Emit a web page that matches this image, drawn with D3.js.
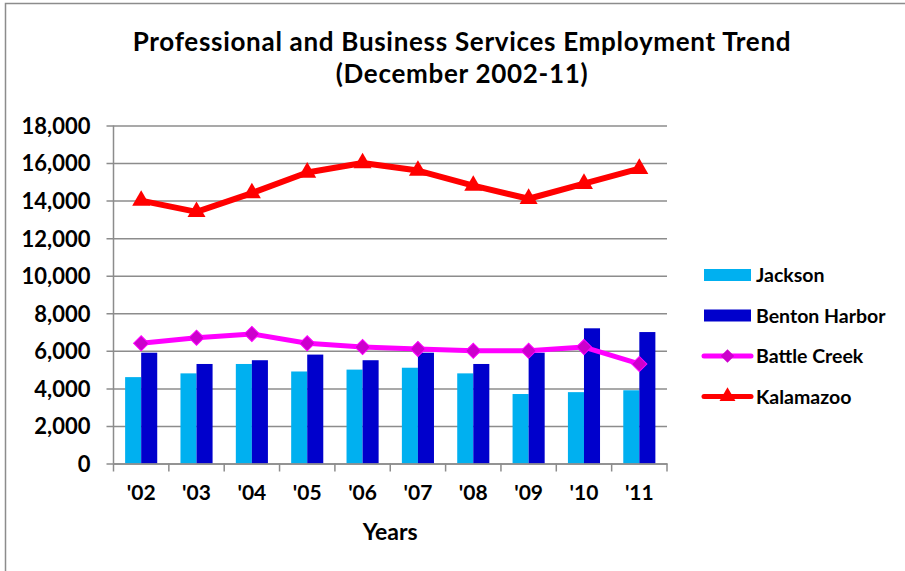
<!DOCTYPE html>
<html>
<head>
<meta charset="utf-8">
<script src="https://cdn.jsdelivr.net/npm/d3@7"></script>
<style>
  html, body { margin: 0; padding: 0; background: #fff; }
  svg { display: block; font-family: Lato, "Open Sans", sans-serif; }
</style>
</head>
<body>
<svg id="chart" width="905" height="571"></svg>
<script>
const years = ["'02", "'03", "'04", "'05", "'06", "'07", "'08", "'09", "'10", "'11"];
const jackson = [4600, 4800, 5300, 4900, 5000, 5100, 4800, 3700, 3800, 3900];
const bentonHarbor = [5900, 5300, 5500, 5800, 5500, 5900, 5300, 5900, 7200, 7000];
const battleCreek = [6400, 6700, 6900, 6400, 6200, 6100, 6000, 6000, 6200, 5300];
const kalamazoo = [14000, 13400, 14400, 15500, 16000, 15600, 14800, 14100, 14900, 15700];
const yTicks = [0, 2000, 4000, 6000, 8000, 10000, 12000, 14000, 16000, 18000];

const titleLines = ["Professional and Business Services Employment Trend", "(December 2002-11)"];
const xTitle = "Years";

const svg = d3.select("#chart");
const gridColor = "#8c8c8c";

// outer border (left and top)
svg.append("path")
  .attr("d", "M5.5,571 L5.5,3.5 L905,3.5")
  .attr("fill", "none").attr("stroke", gridColor).attr("stroke-width", 1.5);

const plot = { left: 113.5, right: 667, top: 125.5, bottom: 463.5 };

const x = d3.scaleBand().domain(years).range([plot.left, plot.right]).paddingInner(0.42).paddingOuter(0.21);
const xStep = d3.scaleBand().domain(years).range([plot.left, plot.right]).padding(0);
const xSub = d3.scaleBand().domain(["Jackson", "Benton Harbor"]).range([0, x.bandwidth()]);
const y = d3.scaleLinear().domain([0, 18000]).range([plot.bottom, plot.top]);

// title
svg.append("g").selectAll("text").data(titleLines).join("text")
  .attr("x", 462).attr("y", (d, i) => 51 + i * 31.5)
  .attr("text-anchor", "middle")
  .attr("font-size", 26).attr("letter-spacing", 0.7).attr("font-weight", "bold").attr("fill", "#000")
  .text(d => d);

// y axis with gridlines
const yAxis = d3.axisLeft(y).tickValues(yTicks)
  .tickSize(-(plot.right - plot.left)).tickPadding(23)
  .tickFormat(d3.format(","));
const gy = svg.append("g").attr("transform", `translate(${plot.left},0)`).call(yAxis);
gy.select(".domain").remove();
gy.selectAll(".tick line").attr("stroke", gridColor).attr("stroke-width", 1.5).attr("x1", -7);
gy.selectAll(".tick text").attr("font-size", 22).attr("font-weight", "bold").attr("fill", "#000")
  .attr("font-family", "Lato, sans-serif").attr("dy", "0.36em");

// y axis line
svg.append("line").attr("x1", plot.left).attr("x2", plot.left).attr("y1", plot.top).attr("y2", plot.bottom)
  .attr("stroke", gridColor).attr("stroke-width", 1.5);

// bars
const groups = svg.append("g").selectAll("g").data(years).join("g")
  .attr("transform", d => `translate(${x(d)},0)`);
groups.append("rect")
  .attr("x", xSub("Jackson")).attr("width", xSub.bandwidth())
  .attr("y", (d, i) => y(jackson[i])).attr("height", (d, i) => y(0) - y(jackson[i]))
  .attr("fill", "#00B0F0");
groups.append("rect")
  .attr("x", xSub("Benton Harbor")).attr("width", xSub.bandwidth())
  .attr("y", (d, i) => y(bentonHarbor[i])).attr("height", (d, i) => y(0) - y(bentonHarbor[i]))
  .attr("fill", "#0000CC");

// x axis
const xAxis = d3.axisBottom(xStep).tickSize(0).tickPadding(22);
const gx = svg.append("g").attr("transform", `translate(0,${plot.bottom})`).call(xAxis);
gx.select(".domain").attr("stroke", gridColor).attr("stroke-width", 1.5);
gx.selectAll(".tick text").attr("font-size", 21).attr("font-weight", "bold").attr("fill", "#000")
  .attr("font-family", "Lato, sans-serif");
// category boundary ticks
const boundaries = years.map(d => xStep(d)).concat([xStep(years[years.length - 1]) + xStep.step()]);
svg.append("g").selectAll("line").data(boundaries).join("line")
  .attr("x1", d => d).attr("x2", d => d)
  .attr("y1", plot.bottom).attr("y2", plot.bottom + 8)
  .attr("stroke", gridColor).attr("stroke-width", 1.5);

// x title
svg.append("text").attr("x", (plot.left + plot.right) / 2).attr("y", 540)
  .attr("text-anchor", "middle").attr("font-size", 23).attr("font-weight", "bold").text(xTitle);

const cx = d => x(d) + x.bandwidth() / 2;
const line = d3.line().x(d => cx(d[0])).y(d => y(d[1]));

// Battle Creek
const bc = years.map((d, i) => [d, battleCreek[i]]);
svg.append("path").datum(bc).attr("d", line).attr("fill", "none")
  .attr("stroke", "#FF00FF").attr("stroke-width", 5).attr("stroke-linejoin", "round");
const diamond = d3.symbol().type(d3.symbolSquare).size(115);
svg.append("g").selectAll("path").data(bc).join("path")
  .attr("d", diamond)
  .attr("transform", d => `translate(${cx(d[0])},${y(d[1])}) rotate(45)`)
  .attr("fill", "#CC00CC").attr("stroke", "#FF00FF").attr("stroke-width", 1);

// Kalamazoo
const kz = years.map((d, i) => [d, kalamazoo[i]]);
svg.append("path").datum(kz).attr("d", line).attr("fill", "none")
  .attr("stroke", "#FF0000").attr("stroke-width", 6).attr("stroke-linejoin", "round");
const tri = d3.symbol().type(d3.symbolTriangle).size(140);
svg.append("g").selectAll("path").data(kz).join("path")
  .attr("d", tri)
  .attr("transform", d => `translate(${cx(d[0])},${y(d[1])})`)
  .attr("fill", "#FF0000");

// legend
const legendItems = [
  { name: "Jackson", type: "bar", color: "#00B0F0" },
  { name: "Benton Harbor", type: "bar", color: "#0000CC" },
  { name: "Battle Creek", type: "diamond", color: "#FF00FF", marker: "#CC00CC" },
  { name: "Kalamazoo", type: "tri", color: "#FF0000", marker: "#FF0000" }
];
const lg = svg.append("g").selectAll("g").data(legendItems).join("g")
  .attr("transform", (d, i) => `translate(0,${275 + i * 40.5})`);
lg.filter(d => d.type === "bar").append("rect")
  .attr("x", 704).attr("y", -6).attr("width", 47).attr("height", 12).attr("fill", d => d.color);
lg.filter(d => d.type !== "bar").append("line")
  .attr("x1", 704).attr("x2", 751).attr("y1", 0).attr("y2", 0)
  .attr("stroke", d => d.color).attr("stroke-width", 5).attr("stroke-linecap", "round");
lg.filter(d => d.type === "diamond").append("path")
  .attr("d", d3.symbol().type(d3.symbolSquare).size(90))
  .attr("transform", "translate(727.5,0) rotate(45)").attr("fill", d => d.marker);
lg.filter(d => d.type === "tri").append("path")
  .attr("d", d3.symbol().type(d3.symbolTriangle).size(110))
  .attr("transform", "translate(727.5,0)").attr("fill", d => d.marker);
lg.append("text").attr("x", 756).attr("y", 0).attr("dy", "0.36em")
  .attr("font-size", 19.5).attr("font-weight", "bold").attr("fill", "#000").text(d => d.name);
</script>
</body>
</html>
